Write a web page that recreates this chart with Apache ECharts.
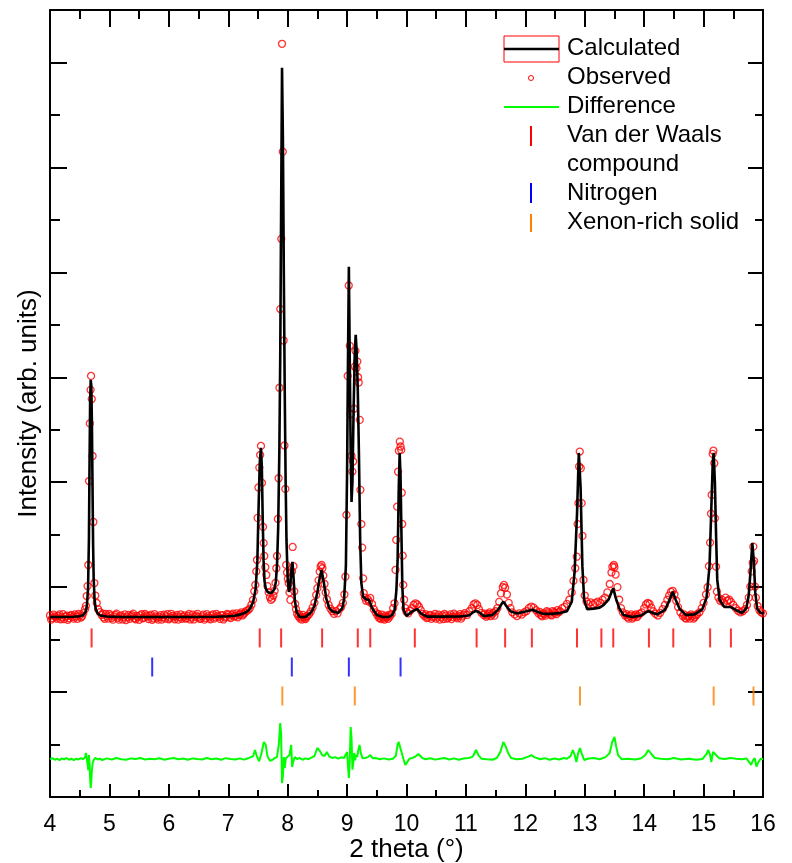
<!DOCTYPE html>
<html>
<head>
<meta charset="utf-8">
<script src="https://cdn.jsdelivr.net/npm/echarts@6/dist/echarts.min.js"></script>
<style>
  body { margin: 0; background: #fff; }
  #chart { width: 792px; height: 863px; }
</style>
</head>
<body>
<div id="chart"></div>
<script>
// 2 theta (deg) / intensity pairs
const observed = [
  [4.00,1730],[4.04,1705],[4.08,1722],[4.12,1698],[4.16,1740],[4.20,1712],[4.24,1695],[4.28,1728],[4.32,1704],[4.36,1735],
  [4.40,1700],[4.44,1720],[4.48,1745],[4.52,1710],[4.56,1752],[4.59,1790],[4.605,1822],[4.618,1915],[4.632,2010],[4.645,2211],
  [4.657,3011],[4.670,3560],[4.683,3880],[4.691,4013],[4.703,3793],[4.717,3250],[4.730,2621],[4.747,2039],[4.762,1920],[4.787,1849],
  [4.81,1790],[4.84,1762],[4.87,1735],[4.90,1712],[4.94,1745],[4.98,1700],[5.02,1728],[5.06,1690],[5.10,1735],[5.14,1708],
  [5.18,1722],[5.22,1692],[5.26,1740],[5.30,1715],[5.34,1698],[5.38,1732],[5.42,1705],[5.46,1725],[5.50,1688],[5.54,1742],
  [5.58,1710],[5.62,1728],[5.66,1696],[5.70,1738],[5.74,1702],[5.78,1720],[5.82,1690],[5.86,1734],[5.90,1712],[5.94,1700],
  [5.98,1742],[6.02,1708],[6.06,1726],[6.10,1694],[6.14,1736],[6.18,1714],[6.22,1698],[6.26,1730],[6.30,1704],[6.34,1744],
  [6.38,1710],[6.42,1692],[6.46,1728],[6.50,1716],[6.54,1700],[6.58,1738],[6.62,1706],[6.66,1724],[6.70,1694],[6.74,1740],
  [6.78,1712],[6.82,1726],[6.86,1698],[6.90,1734],[6.94,1710],[6.98,1745],[7.02,1718],[7.06,1736],[7.10,1720],[7.14,1750],
  [7.18,1732],[7.22,1760],[7.26,1745],[7.30,1772],[7.33,1778],[7.36,1796],[7.39,1832],[7.416,1878],[7.438,1960],[7.455,2021],
  [7.472,2150],[7.484,2259],[7.494,2660],[7.508,2950],[7.523,3139],[7.537,3260],[7.551,3346],[7.568,2993],[7.585,2574],[7.596,2420],
  [7.607,2297],[7.624,2190],[7.641,2116],[7.66,2010],[7.68,1950],[7.70,1905],[7.72,1878],[7.74,1890],[7.76,1920],[7.78,1965],
  [7.795,2040],[7.809,2180],[7.821,2297],[7.835,2650],[7.848,3038],[7.862,3900],[7.876,4650],[7.893,5319],[7.905,7178],[7.918,6150],
  [7.932,4350],[7.946,3350],[7.961,2936],[7.975,2212],[7.99,2140],[8.003,2080],[8.017,2037],[8.031,1950],[8.045,1878],[8.059,2010],
  [8.073,2150],[8.084,2383],[8.098,2200],[8.112,1960],[8.126,1840],[8.14,1790],[8.16,1745],[8.18,1722],[8.21,1700],[8.24,1690],
  [8.27,1715],[8.30,1695],[8.33,1725],[8.36,1742],[8.39,1768],[8.42,1805],[8.45,1852],[8.48,1925],[8.50,1990],[8.52,2065],
  [8.539,2148],[8.555,2195],[8.57,2211],[8.585,2180],[8.60,2110],[8.62,2030],[8.64,1950],[8.66,1885],[8.69,1830],[8.72,1795],
  [8.75,1770],[8.78,1745],[8.81,1772],[8.84,1750],[8.87,1790],[8.90,1811],[8.93,1850],[8.955,1930],[8.972,2100],[8.989,2688],
  [9.01,4013],[9.028,4875],[9.045,4300],[9.06,3650],[9.075,3250],[9.089,3101],[9.102,3197],[9.116,3700],[9.13,4100],[9.141,4252],
  [9.158,4087],[9.172,4150],[9.185,4000],[9.196,3950],[9.213,3594],[9.225,2927],[9.24,2600],[9.254,2377],[9.27,2084],[9.281,1942],
  [9.30,1900],[9.32,1870],[9.35,1885],[9.37,1862],[9.39,1897],[9.42,1840],[9.45,1790],[9.48,1760],[9.51,1730],[9.54,1705],
  [9.57,1695],[9.60,1715],[9.63,1690],[9.66,1710],[9.69,1698],[9.72,1720],[9.75,1745],[9.775,1800],[9.798,1846],[9.815,2164],
  [9.828,2450],[9.843,2767],[9.858,3100],[9.872,3300],[9.887,3387],[9.90,3340],[9.911,3308],[9.92,2900],[9.928,2602],[9.936,2300],
  [9.945,2021],[9.96,1880],[9.98,1800],[10.00,1765],[10.03,1750],[10.06,1775],[10.09,1800],[10.12,1830],[10.15,1846],[10.18,1835],
  [10.21,1814],[10.24,1780],[10.27,1745],[10.30,1725],[10.34,1705],[10.38,1730],[10.42,1698],[10.46,1722],[10.50,1700],[10.54,1738],
  [10.58,1712],[10.62,1695],[10.66,1728],[10.70,1706],[10.74,1740],[10.78,1715],[10.82,1730],[10.86,1702],[10.90,1742],[10.94,1720],
  [10.98,1752],[11.02,1735],[11.06,1770],[11.10,1800],[11.13,1835],[11.16,1846],[11.19,1830],[11.22,1790],[11.26,1755],[11.30,1735],
  [11.34,1718],[11.38,1745],[11.42,1725],[11.46,1755],[11.50,1770],[11.53,1800],[11.56,1860],[11.59,1940],[11.62,2000],[11.64,2021],
  [11.66,1995],[11.69,1930],[11.72,1850],[11.75,1800],[11.78,1760],[11.82,1740],[11.86,1725],[11.90,1750],[11.94,1738],[11.98,1760],
  [12.02,1772],[12.06,1800],[12.10,1815],[12.14,1805],[12.18,1780],[12.22,1750],[12.26,1735],[12.30,1752],[12.34,1728],[12.38,1760],
  [12.42,1740],[12.46,1772],[12.50,1755],[12.54,1780],[12.58,1770],[12.62,1800],[12.66,1812],[12.70,1840],[12.74,1880],[12.78,1950],
  [12.81,2060],[12.84,2180],[12.866,2290],[12.88,2600],[12.894,2800],[12.905,3150],[12.916,3292],[12.933,3133],[12.948,2800],[12.962,2488],
  [12.979,2069],[13.00,1920],[13.03,1862],[13.06,1840],[13.10,1855],[13.14,1835],[13.18,1849],[13.22,1862],[13.26,1850],[13.30,1880],
  [13.34,1900],[13.38,1950],[13.42,2030],[13.45,2140],[13.465,2195],[13.49,2211],[13.50,2190],[13.52,2120],[13.55,2000],[13.58,1880],
  [13.61,1800],[13.64,1760],[13.68,1730],[13.72,1712],[13.76,1725],[13.80,1700],[13.84,1730],[13.88,1715],[13.92,1745],[13.96,1760],
  [14.00,1800],[14.03,1835],[14.06,1849],[14.09,1840],[14.12,1805],[14.15,1770],[14.19,1745],[14.23,1730],[14.27,1755],[14.31,1790],
  [14.35,1830],[14.39,1880],[14.42,1920],[14.45,1955],[14.48,1965],[14.51,1930],[14.54,1870],[14.57,1810],[14.61,1760],[14.65,1725],
  [14.69,1706],[14.73,1720],[14.77,1700],[14.81,1725],[14.85,1712],[14.89,1742],[14.93,1760],[14.97,1800],[15.00,1850],[15.04,1930],
  [15.068,1999],[15.09,2200],[15.11,2424],[15.125,2700],[15.136,2879],[15.153,3270],[15.165,3300],[15.18,3181],[15.19,2657],[15.21,2195],
  [15.225,1957],[15.25,1900],[15.28,1870],[15.31,1880],[15.34,1850],[15.37,1900],[15.40,1870],[15.43,1880],[15.46,1860],[15.50,1830],
  [15.54,1800],[15.58,1775],[15.62,1760],[15.66,1770],[15.70,1790],[15.73,1830],[15.76,1900],[15.787,2005],[15.81,2150],[15.827,2233],
  [15.837,2386],[15.85,2250],[15.866,2005],[15.88,1900],[15.91,1820],[15.94,1780],[15.97,1760],[16.00,1750],
  // in-between points of the flat stretches
  [4.02,1690],[4.06,1738],[4.10,1712],[4.14,1725],[4.18,1694],[4.22,1742],[4.26,1718],[4.30,1688],[4.34,1726],[4.38,1714],
  [4.42,1740],[4.46,1698],[4.50,1730],[4.54,1722],[4.89,1748],[4.92,1698],[4.96,1722],[5.00,1744],[5.04,1706],[5.08,1720],
  [5.12,1748],[5.16,1690],[5.20,1730],[5.24,1712],[5.28,1686],[5.32,1736],[5.36,1720],[5.40,1748],[5.44,1694],[5.48,1712],
  [5.52,1730],[5.56,1702],[5.60,1744],[5.64,1718],[5.68,1726],[5.72,1688],[5.76,1742],[5.80,1706],[5.84,1716],[5.88,1690],
  [5.92,1738],[5.96,1722],[6.00,1694],[6.04,1746],[6.08,1712],[6.12,1720],[6.16,1690],[6.20,1740],[6.24,1716],[6.28,1700],
  [6.32,1726],[6.36,1692],[6.40,1738],[6.44,1714],[6.48,1746],[6.52,1698],[6.56,1722],[6.60,1690],[6.64,1742],[6.68,1710],
  [6.72,1728],[6.76,1700],[6.80,1744],[6.84,1716],[6.88,1730],[6.92,1692],[6.96,1720],[7.00,1738],[7.04,1706],[7.08,1748],
  [7.12,1726],[7.16,1712],[7.20,1744],[7.24,1730],[7.28,1758],[8.195,1740],[8.225,1712],[8.255,1735],[8.285,1700],[8.315,1716],
  [9.525,1745],[9.555,1720],[9.585,1738],[9.615,1700],[9.645,1728],[9.675,1716],[9.705,1735],[10.32,1742],[10.36,1712],[10.40,1736],
  [10.44,1714],[10.48,1744],[10.52,1718],[10.56,1690],[10.60,1730],[10.64,1744],[10.68,1700],[10.72,1722],[10.76,1696],[10.80,1748],
  [10.84,1716],[10.88,1724],[10.92,1700],[10.96,1738],[11.32,1748],[11.36,1730],[11.40,1760],[11.44,1740],[11.48,1728],[12.24,1765],
  [12.28,1722],[12.32,1742],[12.36,1770],[12.40,1750],[12.44,1730],[12.48,1762],[12.52,1742],[12.56,1760],[13.70,1742],[13.74,1700],
  [13.78,1740],[13.82,1712],[13.86,1740],[13.90,1728],[14.67,1740],[14.71,1700],[14.75,1728],[14.79,1740],[14.83,1700],[14.87,1730]
];

const calculated = [
  [4.00,1716],[4.20,1716],[4.40,1718],[4.50,1722],[4.56,1735],[4.60,1765],[4.62,1820],[4.64,1980],[4.655,2450],[4.665,3150],
  [4.675,3750],[4.685,3975],[4.695,3920],[4.705,3580],[4.715,3000],[4.725,2420],[4.735,2080],[4.75,1880],[4.77,1790],[4.80,1750],
  [4.85,1730],[4.95,1720],[5.20,1716],[5.60,1716],[6.00,1716],[6.40,1716],[6.80,1718],[7.00,1722],[7.10,1727],[7.20,1738],
  [7.30,1760],[7.36,1790],[7.42,1860],[7.46,1980],[7.49,2250],[7.51,2750],[7.53,3180],[7.55,3327],[7.565,3150],[7.58,2650],
  [7.595,2250],[7.61,2060],[7.63,1990],[7.66,1955],[7.70,1944],[7.74,1950],[7.78,1985],[7.80,2050],[7.82,2200],[7.84,2560],
  [7.86,3300],[7.875,4200],[7.89,5600],[7.905,6950],[7.92,6270],[7.935,5000],[7.95,3900],[7.965,3040],[7.98,2450],[8.00,2080],
  [8.02,1954],[8.04,1990],[8.06,2150],[8.08,2240],[8.10,2080],[8.12,1880],[8.15,1764],[8.20,1716],[8.30,1716],[8.40,1764],
  [8.45,1820],[8.50,1950],[8.53,2060],[8.57,2164],[8.61,2040],[8.65,1890],[8.70,1800],[8.75,1770],[8.85,1754],[8.92,1800],
  [8.95,1890],[8.98,2200],[9.00,3100],[9.015,4166],[9.03,5052],[9.045,4166],[9.06,3300],[9.075,2812],[9.09,3000],[9.11,3700],
  [9.13,4250],[9.145,4404],[9.16,4260],[9.18,3880],[9.20,3250],[9.22,2450],[9.24,2040],[9.27,1907],[9.32,1885],[9.37,1878],
  [9.42,1802],[9.50,1735],[9.60,1716],[9.70,1716],[9.76,1735],[9.80,1783],[9.83,1973],[9.85,2250],[9.87,2950],[9.885,3279],
  [9.90,3050],[9.915,2500],[9.93,2000],[9.95,1783],[10.00,1725],[10.10,1770],[10.18,1790],[10.25,1745],[10.35,1719],[10.60,1719],
  [10.90,1720],[11.05,1730],[11.12,1760],[11.17,1775],[11.22,1760],[11.30,1725],[11.45,1735],[11.55,1790],[11.60,1840],[11.63,1862],
  [11.68,1820],[11.75,1770],[11.85,1750],[11.95,1760],[12.05,1775],[12.12,1785],[12.20,1765],[12.30,1745],[12.45,1745],[12.60,1755],
  [12.70,1770],[12.78,1860],[12.83,2150],[12.87,2700],[12.90,3279],[12.93,2950],[12.96,2200],[12.99,1880],[13.04,1790],[13.15,1795],
  [13.25,1805],[13.32,1830],[13.40,1880],[13.45,1950],[13.48,1990],[13.52,1900],[13.58,1800],[13.65,1735],[13.80,1716],[13.95,1730],
  [14.03,1760],[14.07,1770],[14.12,1760],[14.22,1740],[14.35,1783],[14.42,1870],[14.48,1957],[14.53,1880],[14.60,1790],[14.70,1735],
  [14.85,1740],[14.98,1790],[15.05,1900],[15.10,2200],[15.13,2750],[15.155,3200],[15.17,3279],[15.19,3000],[15.21,2500],[15.23,2069],
  [15.27,1880],[15.35,1811],[15.45,1811],[15.55,1780],[15.65,1754],[15.72,1800],[15.76,1926],[15.79,2150],[15.82,2421],[15.845,2250],
  [15.87,1950],[15.90,1800],[15.94,1764],[16.00,1745]
];

const difference = [
  [4.00,362],[4.04,370],[4.08,355],[4.12,365],[4.16,350],[4.20,368],[4.24,358],[4.28,372],[4.32,355],[4.36,366],
  [4.40,352],[4.44,364],[4.48,358],[4.52,370],[4.56,360],[4.59,380],[4.605,420],[4.62,360],[4.635,300],[4.645,257],
  [4.655,400],[4.665,330],[4.675,180],[4.685,86],[4.695,150],[4.705,257],[4.72,330],[4.735,350],[4.76,372],[4.80,358],
  [4.84,366],[4.88,352],[4.96,368],[5.04,358],[5.12,372],[5.20,360],[5.28,355],[5.36,368],[5.44,362],[5.52,372],
  [5.60,357],[5.68,365],[5.76,360],[5.84,370],[5.92,356],[6.00,364],[6.08,372],[6.16,360],[6.24,366],[6.32,355],
  [6.40,368],[6.48,362],[6.56,358],[6.64,372],[6.72,360],[6.80,366],[6.88,355],[6.96,370],[7.04,362],[7.12,358],
  [7.20,368],[7.26,356],[7.30,362],[7.36,375],[7.42,390],[7.45,448],[7.48,390],[7.52,340],[7.56,420],[7.60,524],
  [7.63,500],[7.66,390],[7.70,345],[7.74,353],[7.78,370],[7.82,380],[7.85,496],[7.875,705],[7.89,600],[7.905,133],
  [7.92,200],[7.935,380],[7.95,276],[7.97,370],[8.00,380],[8.03,400],[8.06,496],[8.075,286],[8.09,330],[8.12,380],
  [8.16,362],[8.20,372],[8.25,355],[8.30,368],[8.35,360],[8.40,375],[8.45,390],[8.50,467],[8.54,440],[8.58,400],
  [8.62,390],[8.66,429],[8.70,385],[8.75,372],[8.80,380],[8.85,365],[8.90,378],[8.95,372],[8.98,380],[9.00,429],
  [9.015,300],[9.03,181],[9.045,350],[9.06,667],[9.075,560],[9.09,260],[9.105,330],[9.12,420],[9.135,350],[9.15,400],
  [9.17,380],[9.19,450],[9.21,496],[9.23,420],[9.26,370],[9.30,372],[9.35,380],[9.39,400],[9.43,370],[9.48,372],
  [9.55,360],[9.62,368],[9.70,358],[9.77,365],[9.82,390],[9.85,500],[9.87,524],[9.89,480],[9.92,420],[9.95,360],
  [9.98,305],[10.01,330],[10.05,365],[10.10,372],[10.15,385],[10.20,410],[10.23,400],[10.27,370],[10.32,360],[10.40,370],
  [10.48,356],[10.56,365],[10.64,372],[10.72,358],[10.80,368],[10.88,355],[10.96,366],[11.04,372],[11.10,380],[11.13,400],
  [11.17,448],[11.21,400],[11.26,365],[11.35,360],[11.45,355],[11.52,372],[11.58,430],[11.63,524],[11.67,480],[11.71,420],
  [11.76,372],[11.85,360],[11.95,365],[12.05,385],[12.10,400],[12.15,380],[12.25,360],[12.33,370],[12.41,355],[12.49,366],
  [12.57,358],[12.65,372],[12.70,365],[12.76,390],[12.80,448],[12.83,400],[12.86,334],[12.89,420],[12.92,467],[12.95,410],
  [12.99,353],[13.05,365],[13.15,372],[13.25,360],[13.35,380],[13.42,420],[13.46,520],[13.50,572],[13.53,480],[13.56,400],
  [13.62,360],[13.72,365],[13.85,358],[13.95,370],[14.02,400],[14.07,448],[14.12,410],[14.18,372],[14.28,365],[14.40,360],
  [14.50,372],[14.62,358],[14.75,365],[14.88,355],[14.98,362],[15.05,410],[15.08,448],[15.11,400],[15.13,334],[15.16,430],
  [15.18,448],[15.21,400],[15.26,370],[15.35,362],[15.45,372],[15.55,365],[15.65,360],[15.72,368],[15.77,330],[15.80,305],
  [15.83,350],[15.86,370],[15.89,290],[15.92,330],[15.96,365],[16.00,362]
];

// reflection positions (2 theta) for each phase
const vdwPeaks = [4.70, 7.53, 7.89, 8.58, 9.18, 9.39, 10.14, 11.18, 11.66, 12.11, 12.87, 13.28, 13.48, 14.08, 14.49, 15.11, 15.46];
const nitrogenPeaks = [5.72, 8.07, 9.03, 9.90];
const xenonPeaks = [7.91, 9.13, 12.92, 15.17, 15.84];

// intensity level of each row of reflection markers
const vdwRow = 1516;
const nitrogenRow = 1239;
const xenonRow = 963;

const font = 'Liberation Sans, Arial, sans-serif';
const chart = echarts.init(document.getElementById('chart'));

function yAx(pos, interval, len, line, extra) {
  return Object.assign({
    type: 'value', min: 0, max: 7500, interval: interval, position: pos, offset: 0,
    axisLine: { show: line, lineStyle: { color: '#000', width: 2 } },
    axisTick: { show: true, inside: true, length: len, lineStyle: { color: '#000', width: 2 } },
    axisLabel: { show: false },
    splitLine: { show: false }
  }, extra || {});
}

function xAx(pos, len, minorLen, extra) {
  return Object.assign({
    type: 'value', min: 4, max: 16, interval: 1, position: pos,
    axisLine: { show: true, onZero: false, lineStyle: { color: '#000', width: 2 } },
    axisTick: { show: true, inside: true, length: len, lineStyle: { color: '#000', width: 2 } },
    minorTick: { show: true, splitNumber: 2, length: minorLen, lineStyle: { color: '#000', width: 2 } },
    axisLabel: { show: false },
    splitLine: { show: false }
  }, extra || {});
}

function markers(list, row, color) {
  return {
    type: 'scatter',
    data: list.map(function (t) { return [t, row]; }),
    symbol: 'rect',
    symbolSize: [2, 19],
    itemStyle: { color: color },
    z: 4,
    silent: true
  };
}

const legendX = 504, legendText = 567;
function legendLabel(text, y) {
  return {
    type: 'text', left: legendText, top: y - 12,
    style: { text: text, font: '24px ' + font, fill: '#000' }
  };
}

chart.setOption({
  animation: false,
  textStyle: { fontFamily: font },
  grid: { left: 50, right: 29, top: 10, bottom: 66, outerBoundsMode: 'none' },
  xAxis: [
    xAx('bottom', 13, 7, {
      axisLabel: { show: true, color: '#000', fontSize: 23, margin: 16, fontFamily: font },
      name: '2 theta (°)', nameLocation: 'middle', nameGap: 40, nameMoveOverlap: false,
      nameTextStyle: { color: '#000', fontSize: 26, fontFamily: font }
    }),
    xAx('top', 17, 9)
  ],
  yAxis: [
    yAx('left', 1000, 17, true, {
      name: 'Intensity (arb. units)', nameLocation: 'middle', nameGap: 8,
      nameTextStyle: { color: '#000', fontSize: 26, fontFamily: font }
    }),
    yAx('left', 500, 10, false),
    yAx('right', 1000, 15, true),
    yAx('right', 500, 8, false)
  ],
  series: [
    {
      name: 'Observed', type: 'scatter', data: observed,
      symbol: 'circle', symbolSize: 7,
      itemStyle: { color: 'rgba(0,0,0,0)', borderColor: '#ff0000', borderWidth: 1.3 },
      z: 2, silent: true
    },
    {
      name: 'Calculated', type: 'line', data: calculated,
      showSymbol: false, lineStyle: { color: '#000', width: 2.6 }, z: 3, silent: true
    },
    {
      name: 'Difference', type: 'line', data: difference,
      showSymbol: false, lineStyle: { color: '#00ff00', width: 2 }, z: 3, silent: true
    },
    markers(vdwPeaks, vdwRow, '#ff0000'),
    markers(nitrogenPeaks, nitrogenRow, '#0000ff'),
    markers(xenonPeaks, xenonRow, '#ff8000')
  ],
  graphic: [
    { type: 'rect', shape: { x: legendX, y: 36, width: 55, height: 26 }, style: { fill: 'none', stroke: '#ff0000', lineWidth: 1 } },
    { type: 'line', shape: { x1: legendX, y1: 49, x2: legendX + 55, y2: 49 }, style: { stroke: '#000', lineWidth: 2.5 } },
    legendLabel('Calculated', 48),
    { type: 'circle', shape: { cx: 531, cy: 78, r: 2.5 }, style: { fill: 'none', stroke: '#ff0000', lineWidth: 1 } },
    legendLabel('Observed', 77),
    { type: 'line', shape: { x1: legendX, y1: 107, x2: legendX + 55, y2: 107 }, style: { stroke: '#00ff00', lineWidth: 2 } },
    legendLabel('Difference', 106),
    { type: 'line', shape: { x1: 531, y1: 126, x2: 531, y2: 146 }, style: { stroke: '#ff0000', lineWidth: 2 } },
    legendLabel('Van der Waals', 135),
    legendLabel('compound', 164),
    { type: 'line', shape: { x1: 531, y1: 183, x2: 531, y2: 203 }, style: { stroke: '#0000ff', lineWidth: 2 } },
    legendLabel('Nitrogen', 193),
    { type: 'line', shape: { x1: 531, y1: 214, x2: 531, y2: 232 }, style: { stroke: '#ff8000', lineWidth: 2 } },
    legendLabel('Xenon-rich solid', 222)
  ]
});
</script>
</body>
</html>
